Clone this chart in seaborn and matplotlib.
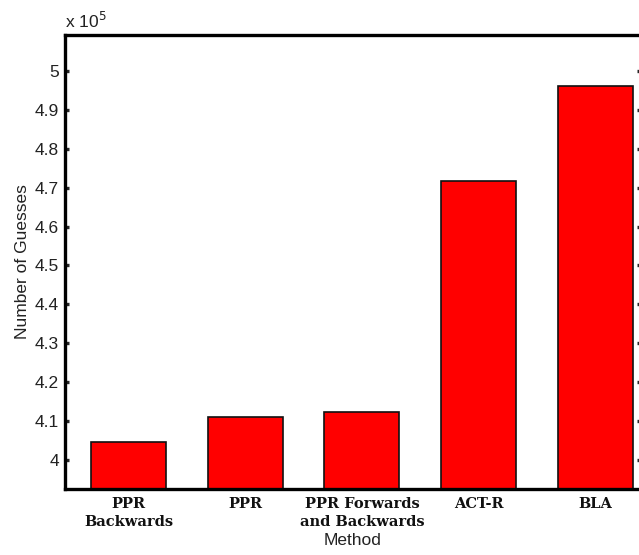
import pandas as pd
import matplotlib
matplotlib.use("Agg")
import matplotlib.pyplot as plt
import seaborn as sns
from matplotlib.ticker import FuncFormatter, MultipleLocator

# datos
metodos = ["PPR\nBackwards", "PPR", "PPR Forwards\nand Backwards", "ACT-R", "BLA"]
guesses = [404500, 411000, 412400, 471800, 496100]

df = pd.DataFrame({"Method": metodos, "Guesses": guesses})

sns.set_theme(style="white")
plt.rcParams["font.family"] = ["Liberation Sans", "DejaVu Sans"]

fig = plt.figure(figsize=(6.39, 5.55), dpi=100)
ax = fig.add_axes([65 / 639, (555 - 489) / 555, 575.5 / 639, (489 - 35) / 555])

sns.barplot(data=df, x="Method", y="Guesses", color="#ff0000", saturation=1,
            width=0.643, edgecolor="#111111", linewidth=1.2, ax=ax)

ax.set_xlim(-0.547, 4.389)
ax.set_ylim(392500, 509250)
ax.yaxis.set_major_locator(MultipleLocator(10000))
ax.yaxis.set_major_formatter(FuncFormatter(lambda v, p: f"{v / 1e5:g}" if 399999 <= v <= 500001 else ""))

for s in ax.spines.values():
    s.set_linewidth(2.4)
    s.set_color("black")

ax.tick_params(axis="y", direction="in", length=3, width=2.4, labelsize=12.5,
               labelcolor="#222222", right=True, left=True, pad=4.5)
ax.tick_params(axis="x", length=0, pad=6)
for lbl in ax.get_xticklabels():
    lbl.set_family("DejaVu Serif")
    lbl.set_fontweight("bold")
    lbl.set_fontsize(10.5)
    lbl.set_linespacing(1.35)
    lbl.set_color("#111111")

ax.set_xlabel("Method", fontsize=12.5, color="#222222", labelpad=3)
ax.set_ylabel("Number of Guesses", fontsize=12.5, color="#222222", labelpad=3)
fig.text(65 / 639, 1 - 21 / 555, "x 10$^5$", fontsize=12.5, color="#222222",
         ha="left", va="center")

fig.savefig("out.png", dpi=100)
